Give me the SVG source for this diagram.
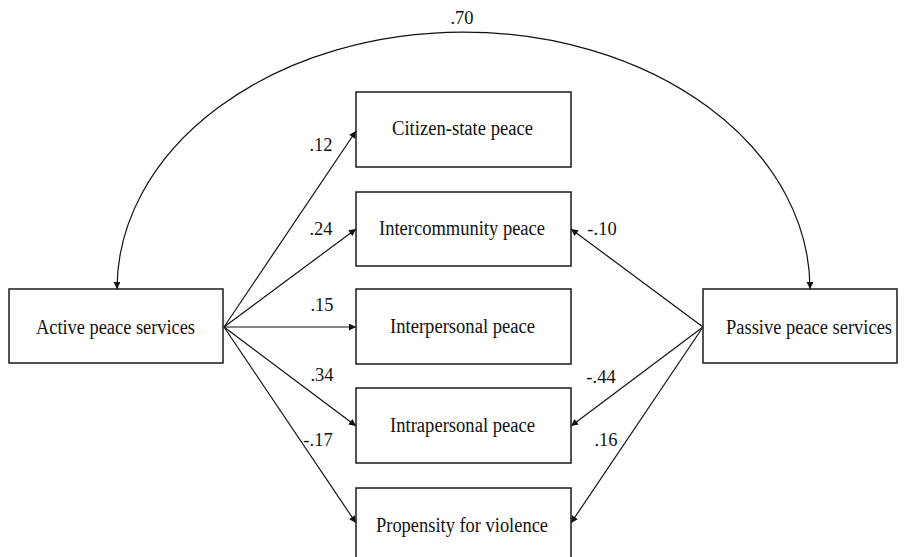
<svg xmlns="http://www.w3.org/2000/svg" width="906" height="557" viewBox="0 0 906 557" font-family="'Liberation Serif', 'Times New Roman', 'DejaVu Serif', serif">
<style>
text{font-family:"Liberation Serif","Times New Roman","DejaVu Serif",serif;font-size:18.5px;fill:#111;text-anchor:middle}
text.lbl{font-size:20px}
.box{fill:#fff;stroke:#1a1a1a;stroke-width:1.5}
.edge{fill:none;stroke:#111;stroke-width:1.2}
</style>
<defs>
<marker id="ah" viewBox="0 0 10 10" refX="10" refY="5" markerWidth="8" markerHeight="7" markerUnits="userSpaceOnUse" orient="auto-start-reverse">
<path d="M0,0 L10,5 L0,10 z" fill="#111"/>
</marker>
</defs>
<rect width="906" height="557" fill="#fff"/>
<g id="connectors">
<path class="edge" d="M117,289 A346.5,257 0 0 1 810,289" marker-start="url(#ah)" marker-end="url(#ah)"/>
<line class="edge" x1="224" y1="327" x2="356" y2="131" marker-end="url(#ah)"/>
<line class="edge" x1="224" y1="327" x2="356" y2="229" marker-end="url(#ah)"/>
<line class="edge" x1="224" y1="327" x2="356" y2="327" marker-end="url(#ah)"/>
<line class="edge" x1="224" y1="327" x2="356" y2="426" marker-end="url(#ah)"/>
<line class="edge" x1="224" y1="327" x2="356" y2="523" marker-end="url(#ah)"/>
<line class="edge" x1="703" y1="327" x2="571" y2="229" marker-end="url(#ah)"/>
<line class="edge" x1="703" y1="327" x2="571" y2="426" marker-end="url(#ah)"/>
<line class="edge" x1="703" y1="327" x2="571" y2="523" marker-end="url(#ah)"/>
<text x="462" y="24">.70</text>
<text x="321" y="151">.12</text>
<text x="321" y="235">.24</text>
<text x="322" y="311">.15</text>
<text x="322" y="381">.34</text>
<text x="318" y="446">-.17</text>
<text x="602" y="235">-.10</text>
<text x="601" y="383">-.44</text>
<text x="606" y="446">.16</text>
</g>
<g id="active">
<rect class="box" x="9" y="289" width="214" height="74"/>
<text class="lbl" x="115.5" y="333.5" textLength="159" lengthAdjust="spacingAndGlyphs">Active peace services</text>
</g>
<g id="passive">
<rect class="box" x="703" y="289" width="194" height="74"/>
<text class="lbl" x="809" y="333.5" textLength="166" lengthAdjust="spacingAndGlyphs">Passive peace services</text>
</g>
<g id="citizen">
<rect class="box" x="356" y="92" width="215" height="75"/>
<text class="lbl" x="462.5" y="135" textLength="141" lengthAdjust="spacingAndGlyphs">Citizen-state peace</text>
</g>
<g id="intercommunity">
<rect class="box" x="356" y="192" width="215" height="74"/>
<text class="lbl" x="462" y="235" textLength="166" lengthAdjust="spacingAndGlyphs">Intercommunity peace</text>
</g>
<g id="interpersonal">
<rect class="box" x="356" y="289" width="215" height="75"/>
<text class="lbl" x="462.5" y="333" textLength="145" lengthAdjust="spacingAndGlyphs">Interpersonal peace</text>
</g>
<g id="intrapersonal">
<rect class="box" x="356" y="388" width="215" height="75"/>
<text class="lbl" x="462.5" y="432" textLength="145" lengthAdjust="spacingAndGlyphs">Intrapersonal peace</text>
</g>
<g id="propensity">
<rect class="box" x="356" y="488" width="215" height="76"/>
<text class="lbl" x="462" y="531.5" textLength="172" lengthAdjust="spacingAndGlyphs">Propensity for violence</text>
</g>
</svg>
